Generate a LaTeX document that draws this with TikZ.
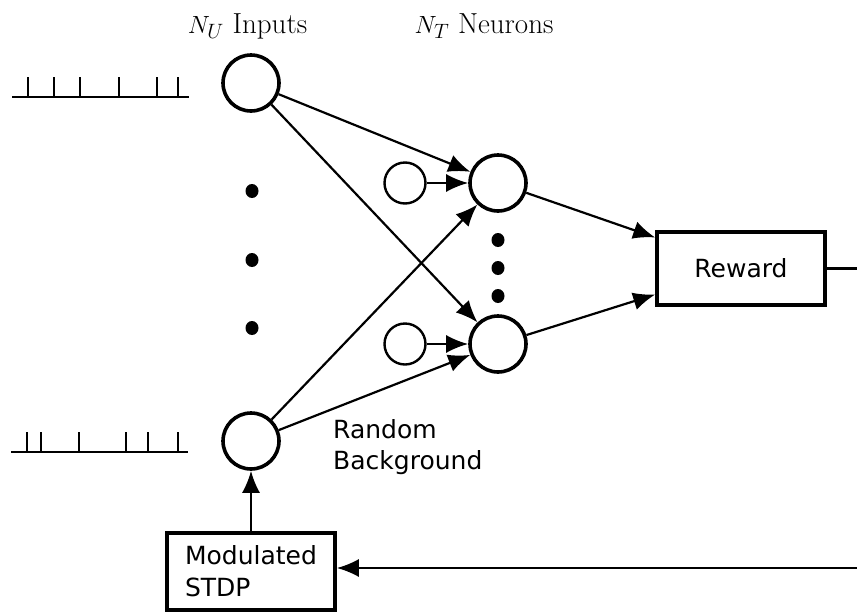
\documentclass[tikz,border=0pt]{standalone}
\usepackage{fontspec}
\newfontfamily\labelfont{DejaVu Sans}
\usetikzlibrary{arrows.meta,calc,shapes.geometric}

\tikzset{
  unit/.style={circle, draw, line width=3.6pt, minimum size=56pt, inner sep=0pt},
  bgunit/.style={circle, draw, line width=2.4pt, minimum size=41pt, inner sep=0pt},
  blockbox/.style={rectangle, draw, line width=3.6pt, minimum width=168pt, inner sep=0pt,
    font=\labelfont\fontsize{25}{32}\selectfont, align=left},
  link/.style={line width=2.2pt, -{Latex[length=22pt,width=18pt]}},
  plain/.style={line width=2.2pt},
  spike/.style={line width=2.4pt},
  dotmark/.style={ellipse, fill, inner sep=0pt, minimum width=13pt, minimum height=14pt},
  heading/.style={font=\fontsize{29}{33}\selectfont, anchor=base, inner sep=0pt},
}

\begin{document}
\begin{tikzpicture}[x=1pt,y=-1pt]
\useasboundingbox (0,0) rectangle (857,611);

% column headings
\node[heading] (hin) at (247.5,33) {$N_U$ Inputs};
\node[heading] (hn) at (484,33) {$N_T$ Neurons};

% input spike trains
\draw[spike] (12,97) -- (189,97);
\foreach \t in {28,54,80,119,157,178} \draw[spike] (\t,97) -- (\t,77);
\draw[spike] (11,452) -- (188,452);
\foreach \t in {27,41,79,126,148,178} \draw[spike] (\t,452) -- (\t,432);

% input units
\node[unit] (in1) at (251,83) {};
\node[unit] (in2) at (251,441) {};
\node[dotmark] (d1) at (252,191) {};
\node[dotmark] (d2) at (252,260) {};
\node[dotmark] (d3) at (252,328) {};

% background sources and output neurons
\node[bgunit] (bg1) at (405,183) {};
\node[bgunit] (bg2) at (405,344) {};
\node[unit] (n1) at (498,183) {};
\node[unit] (n2) at (498,344) {};
\node[dotmark] (e1) at (498,240) {};
\node[dotmark] (e2) at (498,268) {};
\node[dotmark] (e3) at (498,296) {};

\node[font=\labelfont\fontsize{25}{31}\selectfont, align=left, anchor=west, inner sep=0pt]
  (rb) at (333,447) {Random\\Background};

% reward and plasticity blocks
\node[blockbox, minimum height=73pt, align=center] (rew) at (741,268.5) {Reward};
\node[blockbox, minimum height=77pt] (stdp) at (251,571.5) {Modulated\\STDP};

\coordinate (rout) at (857,268.5);
\coordinate (fb) at (857,568);

% connections
\draw[link] (in1) -- (n1);
\draw[link] (in1) -- (n2);
\draw[link] (in2) -- (n1);
\draw[link] (in2) -- (n2);
\draw[link] (bg1) -- (n1);
\draw[link] (bg2) -- (n2);
\draw[link] (n1) -- ([yshift=31pt]rew.west);
\draw[link] (n2) -- ([yshift=-26pt]rew.west);
\draw[plain] (rew.east) -- (rout);
\draw[link] (fb) -- (fb -| stdp.east);
\draw[link] (stdp.north) -- (in2);
\end{tikzpicture}
\end{document}
